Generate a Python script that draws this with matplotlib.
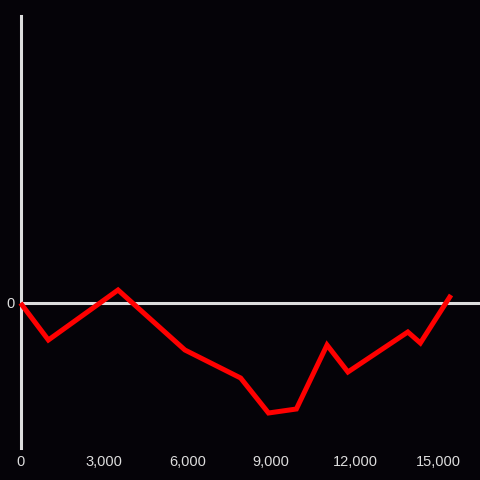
import matplotlib
matplotlib.use("Agg")
import matplotlib.pyplot as plt

x_values = [0, 1000, 3500, 5900, 7900, 8900, 9900, 11000, 11750, 13900, 14350, 15450]
y_values = [0, -37, 13, -47, -75, -110, -106, -42, -69, -29, -40, 8]
x_ticks = [0, 3000, 6000, 9000, 12000, 15000]
x_tick_labels = ["0", "3,000", "6,000", "9,000", "12,000", "15,000"]

bg = "#050308"
fg = "#dddddd"

plt.rcParams['font.family'] = ['Liberation Sans', 'DejaVu Sans']
fig = plt.figure(figsize=(4.8, 4.8), dpi=100, facecolor=bg)
ax = fig.add_axes([20.5/480, 32/480, (480-20.5)/480, (448-16)/480])
ax.set_facecolor(bg)

ax.axhline(0, color=fg, lw=2.2, zorder=1)
ax.plot(x_values, y_values, color="#ff0000", lw=3.6, solid_joinstyle='miter', solid_capstyle='butt', zorder=3, clip_on=False)

ax.set_xlim(0, 16490)
ax.set_ylim(-145, 287)
ax.set_xticks(x_ticks)
ax.set_xticklabels(x_tick_labels)
ax.set_yticks([0])
ax.set_yticklabels(["0"])
ax.tick_params(axis='both', length=0, colors=fg, labelsize=10.5)
ax.tick_params(axis='x', pad=5)
ax.tick_params(axis='y', pad=4)
for s in ['top', 'right', 'bottom']:
    ax.spines[s].set_visible(False)
ax.spines['left'].set_color(fg)
ax.spines['left'].set_linewidth(2.2)

fig.savefig("out.png", dpi=100, facecolor=bg)
